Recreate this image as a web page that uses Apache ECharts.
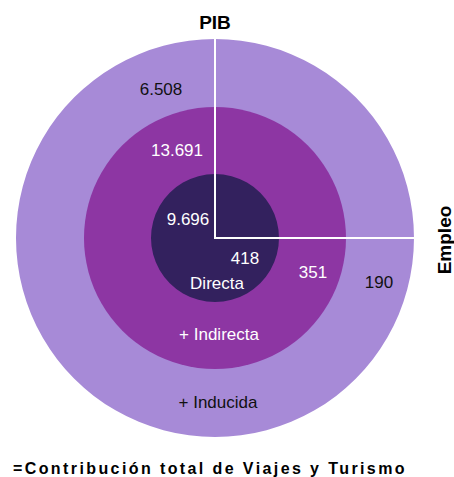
<!DOCTYPE html>
<html>
<head>
<meta charset="utf-8">
<script src="https://cdn.jsdelivr.net/npm/echarts@6/dist/echarts.min.js"></script>
<style>
  html, body { margin: 0; padding: 0; background: #fff; }
  #chart { width: 454px; height: 477px; }
  /* el título inferior va espaciado */
  #chart text[style*="16px"] { letter-spacing: 2.4px; }
</style>
</head>
<body>
<div id="chart"></div>
<script>
// capas del círculo (de fuera hacia dentro)
const layers = ['+ Inducida', '+ Indirecta', 'Directa'];
const pibValues = ['6.508', '13.691', '9.696'];
const empleoValues = ['190', '351', '418'];
const axisNames = ['PIB', 'Empleo'];
const totalTitle = '=Contribución total de Viajes y Turismo';

const layerColors = ['#a78ad7', '#8d36a3', '#33215e'];
const textColors = ['#111', '#fff', '#fff'];
const radii = [199, 131, 64];
const cx = 215, cy = 238;

const chart = echarts.init(document.getElementById('chart'), null, { renderer: 'svg' });

// un pie de un solo elemento por capa
const series = layers.map((name, i) => ({
    type: 'pie',
    center: [cx, cy],
    radius: [0, radii[i]],
    silent: true,
    z: 2 + i,
    label: { show: false },
    labelLine: { show: false },
    itemStyle: { color: layerColors[i] },
    data: [{ name: name, value: 1 }]
}));

// posiciones de las etiquetas (centro del texto)
const pibPos = [[161, 89], [177, 150], [188, 219]];
const empPos = [[379, 282], [313, 272], [245, 258]];
const namePos = [[218, 402], [219, 334], [217, 283]];

const font = '"Liberation Sans", Arial, sans-serif';
const texts = [];
layers.forEach((name, i) => {
    const add = (txt, p) => texts.push({
        type: 'text', x: p[0], y: p[1], z: 20,
        style: { text: txt, fill: textColors[i], font: '17px ' + font, align: 'center', verticalAlign: 'middle' }
    });
    add(pibValues[i], pibPos[i]);
    add(empleoValues[i], empPos[i]);
    add(name, namePos[i]);
});

const graphic = [
    { type: 'line', z: 15, shape: { x1: cx, y1: cy + 1, x2: cx, y2: cy - radii[0] }, style: { stroke: '#fff', lineWidth: 2 } },
    { type: 'line', z: 15, shape: { x1: cx - 1, y1: cy, x2: cx + radii[0], y2: cy }, style: { stroke: '#fff', lineWidth: 2 } },
    { type: 'text', x: cx, y: 22, z: 20, style: { text: axisNames[0], fill: '#000', font: 'bold 19px ' + font, align: 'center', verticalAlign: 'middle' } },
    { type: 'text', x: 444, y: 240, rotation: Math.PI / 2, z: 20, style: { text: axisNames[1], fill: '#000', font: 'bold 19px ' + font, align: 'center', verticalAlign: 'middle' } },
    { type: 'text', x: 13, y: 468, z: 20, style: { text: totalTitle, fill: '#000', font: 'bold 16px ' + font, align: 'left', verticalAlign: 'middle' } }
].concat(texts);

chart.setOption({
    animation: false,
    series: series,
    graphic: graphic
});
</script>
</body>
</html>
